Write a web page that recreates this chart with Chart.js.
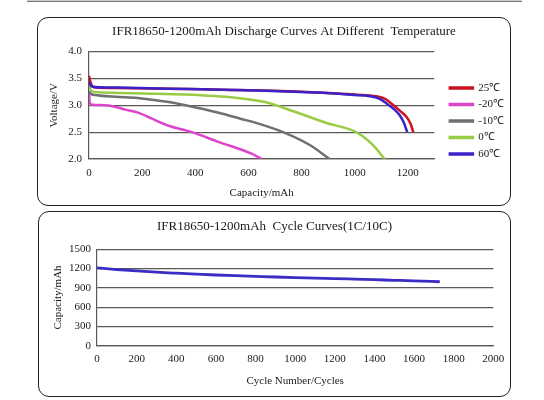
<!DOCTYPE html>
<html>
<head>
<meta charset="utf-8">
<title>IFR18650-1200mAh curves</title>
<script src="https://cdn.jsdelivr.net/npm/chart.js@4.4.1/dist/chart.umd.min.js"></script>
<style>
    html, body { margin: 0; padding: 0; background: #fff; }
    body { width: 544px; height: 400px; position: relative; overflow: hidden; }
    .strip { position: absolute; left: 27px; top: 0; width: 495px; height: 1px; background: #ccc; border-bottom: 1px solid #777; }
    .box { position: absolute; border: 1.5px solid #222; border-radius: 11px; box-sizing: border-box; }
    #box-top { left: 37px; top: 17px; width: 474px; height: 189px; }
    #box-bottom { left: 38px; top: 211px; width: 473px; height: 186px; }
    .wrap { position: absolute; }
    #wrap-top { left: 37px; top: 17px; width: 494px; height: 188px; }
    #wrap-bottom { left: 38px; top: 211px; width: 473px; height: 185px; }
</style>
</head>
<body>
<div class="strip"></div>
<div class="box" id="box-top"></div>
<div class="box" id="box-bottom"></div>
<div class="wrap" id="wrap-top"><canvas id="discharge-chart"></canvas></div>
<div class="wrap" id="wrap-bottom"><canvas id="cycle-chart"></canvas></div>

<script>
// Discharge curves (capacity mAh -> voltage V)
const tempLabels = ['25℃', '-20℃', '-10℃', '0℃', '60℃'];
const tempColors = ['#cc1020', '#dd44cc', '#707070', '#99cc44', '#3a22c8'];

const cap25 = [0, 5, 12, 25, 100, 300, 500, 700, 900, 1000, 1081, 1115, 1144, 1170, 1194, 1210, 1221];
const volt25 = [3.55, 3.44, 3.36, 3.33, 3.32, 3.31, 3.29, 3.27, 3.23, 3.20, 3.17, 3.12, 3.01, 2.90, 2.79, 2.66, 2.50];

const capM20 = [0, 3, 12, 62, 100, 137, 187, 237, 300, 387, 487, 612, 650];
const voltM20 = [3.22, 3.04, 3.01, 3.00, 2.97, 2.92, 2.86, 2.75, 2.62, 2.50, 2.32, 2.10, 2.00];

const capM10 = [0, 5, 25, 175, 300, 363, 488, 570, 644, 731, 831, 906];
const voltM10 = [3.26, 3.22, 3.19, 3.14, 3.06, 3.00, 2.86, 2.75, 2.65, 2.50, 2.26, 2.00];

const cap0 = [0, 5, 12, 50, 112, 200, 362, 550, 662, 769, 894, 1006, 1069, 1113];
const volt0 = [3.38, 3.30, 3.26, 3.24, 3.23, 3.22, 3.20, 3.14, 3.06, 2.89, 2.67, 2.50, 2.26, 2.00];

const cap60 = [0, 8, 25, 112, 300, 500, 663, 894, 1000, 1056, 1090, 1119, 1150, 1169, 1185, 1198];
const volt60 = [3.43, 3.36, 3.34, 3.33, 3.31, 3.29, 3.27, 3.23, 3.19, 3.17, 3.13, 3.04, 2.92, 2.82, 2.68, 2.50];

// Cycle curve (cycle number -> capacity mAh)
const cycles = [0, 100, 200, 300, 400, 500, 600, 700, 800, 900, 1000, 1100, 1200, 1300, 1400, 1500, 1600, 1730];
const cycleCap = [1210, 1185, 1163, 1144, 1128, 1113, 1100, 1089, 1079, 1069, 1060, 1053, 1045, 1036, 1027, 1018, 1009, 995];

const serif = "'Liberation Serif', 'Times New Roman', serif";
const gridColor = '#5a5a5a';
const textColor = '#1a1a1a';

function toPoints(xs, ys) {
    return xs.map((x, i) => ({ x: x, y: ys[i] }));
}

// empty right axis, only takes up space on the right side
function gapAxis(width, weight) {
    return {
        type: 'linear',
        position: 'right',
        weight: weight || 0,
        grid: { display: false, drawTicks: false },
        border: { display: false },
        ticks: { display: false },
        afterFit: s => { s.width = width; }
    };
}

document.addEventListener('DOMContentLoaded', () => {
    Chart.defaults.font.family = serif;
    Chart.defaults.color = textColor;
    Chart.defaults.animation = false;

    const series = [
        [cap25, volt25, 1],
        [capM20, voltM20, 2],
        [capM10, voltM10, 2],
        [cap0, volt0, 2],
        [cap60, volt60, 0]
    ];

    new Chart(document.getElementById('discharge-chart'), {
        type: 'line',
        data: {
            datasets: series.map((s, i) => ({
                label: tempLabels[i],
                data: toPoints(s[0], s[1]),
                borderColor: tempColors[i],
                backgroundColor: tempColors[i],
                borderWidth: 2.5,
                pointRadius: 0,
                cubicInterpolationMode: 'monotone',
                order: s[2]
            }))
        },
        options: {
            responsive: true,
            maintainAspectRatio: false,
            plugins: {
                title: {
                    display: true,
                    text: 'IFR18650-1200mAh Discharge Curves At Different  Temperature',
                    font: { size: 13, weight: 'normal' },
                    color: textColor,
                    padding: { top: 7, bottom: 12 }
                },
                legend: {
                    position: 'right',
                    maxWidth: 70,
                    title: { display: true, text: ' ', font: { size: 11 }, padding: 3.4 },
                    labels: {
                        boxWidth: 23,
                        boxHeight: 1,
                        padding: 5.5,
                        font: { size: 11 },
                        color: textColor,
                        sort: (a, b) => a.datasetIndex - b.datasetIndex
                    }
                },
                tooltip: { enabled: false }
            },
            scales: {
                x: {
                    type: 'linear',
                    min: 0,
                    max: 1300,
                    grid: { display: false, drawTicks: false },
                    border: { display: true, color: gridColor, width: 1.2 },
                    ticks: {
                        stepSize: 200,
                        includeBounds: false,
                        padding: 8,
                        font: { size: 11 },
                        callback: v => String(v)
                    },
                    title: { display: true, text: 'Capacity/mAh', font: { size: 11 }, padding: { top: 0, bottom: 5 } },
                    afterFit: s => { s.height = 46; }
                },
                y: {
                    min: 2,
                    max: 4,
                    grid: { color: gridColor, lineWidth: 1.2, drawTicks: false },
                    border: { display: true, color: gridColor, width: 1.2 },
                    ticks: {
                        stepSize: 0.5,
                        padding: 7,
                        font: { size: 11 },
                        callback: v => v.toFixed(1)
                    },
                    title: { display: true, text: 'Voltage/V', font: { size: 11 }, padding: { top: 11, bottom: 0 } },
                    afterFit: s => { s.width = 52; }
                },
                gap: gapAxis(10),
                // placed outside the legend (legend weight is 1000)
                gapOuter: gapAxis(17, 2000)
            }
        }
    });

    new Chart(document.getElementById('cycle-chart'), {
        type: 'line',
        data: {
            datasets: [{
                label: 'Capacity',
                data: toPoints(cycles, cycleCap),
                borderColor: '#3a2cc4',
                borderWidth: 2.8,
                pointRadius: 0,
                cubicInterpolationMode: 'monotone'
            }]
        },
        options: {
            responsive: true,
            maintainAspectRatio: false,
            plugins: {
                title: {
                    display: true,
                    text: 'IFR18650-1200mAh  Cycle Curves(1C/10C)',
                    font: { size: 13, weight: 'normal' },
                    color: textColor,
                    padding: { top: 8, bottom: 14.7 }
                },
                legend: { display: false },
                tooltip: { enabled: false }
            },
            scales: {
                x: {
                    type: 'linear',
                    min: 0,
                    max: 2000,
                    grid: { display: false, drawTicks: false },
                    border: { display: true, color: gridColor, width: 1.2 },
                    ticks: { stepSize: 200, padding: 6.7, font: { size: 11 }, callback: v => String(v) },
                    title: { display: true, text: 'Cycle Number/Cycles', font: { size: 11 }, padding: { top: 0, bottom: 8.4 } },
                    afterFit: s => { s.height = 50.3; }
                },
                y: {
                    min: 0,
                    max: 1500,
                    grid: { color: gridColor, lineWidth: 1.2, drawTicks: false },
                    border: { display: true, color: gridColor, width: 1.2 },
                    ticks: { stepSize: 300, padding: 6, font: { size: 11 }, callback: v => String(v) },
                    title: { display: true, text: 'Capacity/mAh', font: { size: 11 }, padding: { top: 13.4, bottom: 0 } },
                    afterFit: s => { s.width = 59; }
                },
                gap: gapAxis(16)
            }
        }
    });
});
</script>
</body>
</html>
